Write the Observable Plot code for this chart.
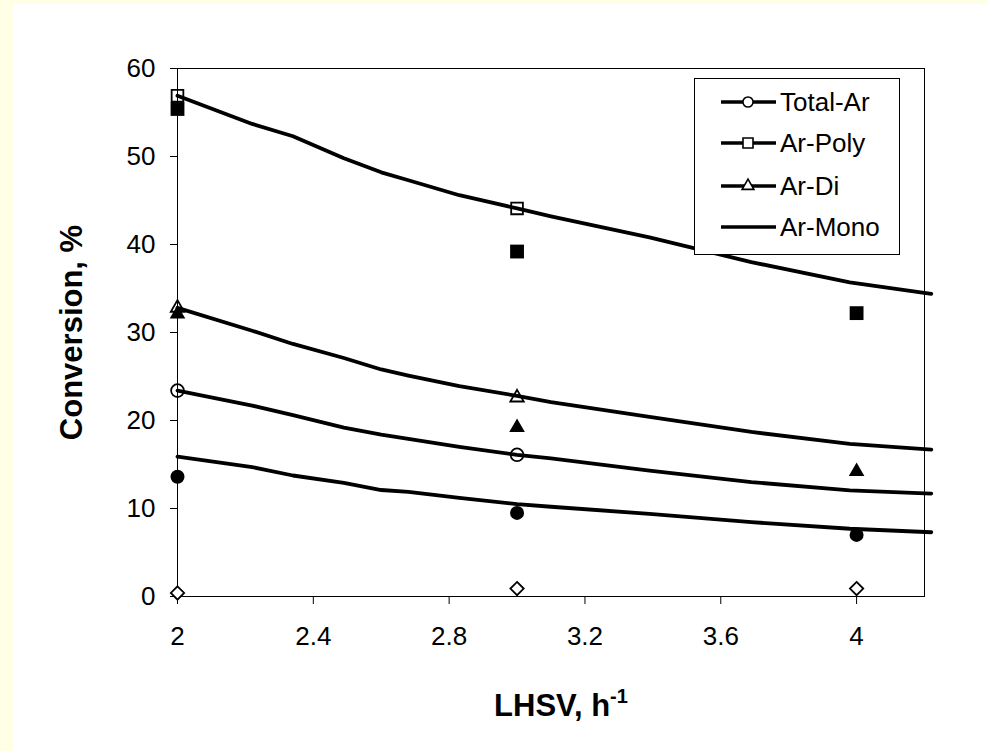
<!DOCTYPE html>
<html>
<head>
<meta charset="utf-8">
<script src="https://cdn.jsdelivr.net/npm/d3@7"></script>
<script src="https://cdn.jsdelivr.net/npm/@observablehq/plot@0.6"></script>
<style>
  html, body { margin: 0; padding: 0; }
  body { width: 988px; height: 751px; background: #FFFFE6; position: relative; overflow: hidden;
         font-family: "Liberation Sans", Arial, sans-serif; }
  #paper { position: absolute; left: 13px; top: 4px; right: 0; bottom: 0; background: #ffffff; }
  #chart { position: absolute; left: 0; top: 0; }
  #xtitle { position: absolute; left: 441px; width: 240px; top: 690px; text-align: center;
            font-weight: bold; font-size: 31px; line-height: 31px; white-space: nowrap; color: #000; }
  #xtitle .sup { position: relative; top: -13px; font-size: 20px; }
  #legend { position: absolute; left: 694px; top: 78px; width: 204px; height: 175px;
            border: 1px solid #000; background: #fff; }
</style>
</head>
<body>
<div id="paper"></div>
<div id="chart"></div>
<div id="xtitle">LHSV, h<span class="sup">-1</span></div>
<div id="legend"></div>
<script>
// ---- Data ----
// Experimental points (filled markers) at LHSV 2, 3, 4
const lhsv = [2, 3, 4];
const totalArExp = [13.6, 9.5, 7.0];
const arPolyExp = [55.4, 39.2, 32.2];
const arDiExp = [32.1, 19.2, 14.2];
const arMonoExp = [0.4, 0.9, 0.9];

// Open markers at LHSV 2 and 3
const lhsvOpen = [2, 3];
const totalArOpen = [23.4, 16.1];
const arPolyOpen = [56.9, 44.1];
const arDiOpen = [32.8, 22.6];

// Model curves
const curveLhsv = [2.0, 2.22, 2.34, 2.49, 2.6, 2.68, 2.83, 3.0, 3.1, 3.39, 3.69, 3.98, 4.22];
const arPolyFit = [56.9, 53.7, 52.3, 49.8, 48.2, 47.3, 45.6, 44.1, 43.2, 40.8, 38.0, 35.7, 34.4];
const arDiFit   = [32.8, 30.2, 28.7, 27.1, 25.8, 25.1, 23.9, 22.8, 22.1, 20.4, 18.7, 17.35, 16.7];
const totalFit  = [23.4, 21.7, 20.6, 19.2, 18.4, 17.9, 17.0, 16.1, 15.7, 14.3, 13.0, 12.05, 11.7];
const arMonoFit = [15.9, 14.7, 13.75, 12.9, 12.1, 11.9, 11.2, 10.5, 10.2, 9.4, 8.45, 7.7, 7.3];

const xTicks = [2, 2.4, 2.8, 3.2, 3.6, 4];
const yTicks = [0, 10, 20, 30, 40, 50, 60];

const legendNames = ["Total-Ar", "Ar-Poly", "Ar-Di", "Ar-Mono"];
const legendSymbols = ["circle", "square", "triangle", null];

const yTitle = "Conversion, %";

// ---- Chart ----
const id = d => d;
const fitSeries = [arPolyFit, arDiFit, totalFit, arMonoFit];
const fmt = d3.format("~g");

const marks = [
  Plot.frame({stroke: "#000", strokeWidth: 1}),
  Plot.axisX({ticks: xTicks, tickFormat: fmt, tickSize: 8, tickPadding: 22, label: null, fontSize: 26, stroke: "#000"}),
  Plot.axisY({ticks: yTicks, tickFormat: fmt, tickSize: 7, tickPadding: 15, label: null, fontSize: 26, stroke: "#000"}),
  ...fitSeries.map(s => Plot.line(curveLhsv, {x: id, y: s, stroke: "#000", strokeWidth: 3.8})),
  // filled markers
  Plot.dot(lhsv, {x: id, y: arPolyExp, symbol: "square", r: 7.8, fill: "#000", stroke: "none"}),
  Plot.dot(lhsv, {x: id, y: arDiExp, symbol: "triangle", r: 5.8, fill: "#000", stroke: "none"}),
  Plot.dot(lhsv, {x: id, y: totalArExp, symbol: "circle", r: 7, fill: "#000", stroke: "none"}),
  Plot.dot(lhsv, {x: id, y: arMonoExp, symbol: d3.symbolDiamond2, r: 6.0, fill: "#fff", stroke: "#000", strokeWidth: 1.8}),
  // open markers
  Plot.dot(lhsvOpen, {x: id, y: arPolyOpen, symbol: "square", r: 6.6, fill: "none", stroke: "#000", strokeWidth: 1.8}),
  Plot.dot(lhsvOpen, {x: id, y: arDiOpen, symbol: "triangle", r: 5.0, fill: "none", stroke: "#000", strokeWidth: 1.8}),
  Plot.dot(lhsvOpen, {x: id, y: totalArOpen, symbol: "circle", r: 6.4, fill: "none", stroke: "#000", strokeWidth: 1.8}),
  // y-axis title
  Plot.text([yTitle], {text: id, frameAnchor: "left", textAnchor: "middle", lineAnchor: "middle", rotate: -90, dx: -105, fontSize: 31, fontWeight: "bold", fill: "#000"})
];

const chart = Plot.plot({
  width: 988,
  height: 751,
  marginLeft: 177,
  marginRight: 64,
  marginTop: 68,
  marginBottom: 155,
  style: {background: "transparent", fontFamily: "'Liberation Sans', Arial, sans-serif", fontSize: "26px", color: "#000", overflow: "visible"},
  x: {domain: [2, 4.2]},
  y: {domain: [0, 60]},
  marks
});
document.getElementById("chart").appendChild(chart);

// ---- Legend ----
const lg = d3.select("#legend").append("svg")
  .attr("width", 204).attr("height", 175)
  .style("position", "absolute").style("left", "0").style("top", "0")
  .style("overflow", "visible");
const rowY = [23, 64, 107, 148];
legendNames.forEach((name, i) => {
  const y = rowY[i];
  lg.append("line").attr("x1", 26).attr("x2", 81).attr("y1", y).attr("y2", y)
    .attr("stroke", "#000").attr("stroke-width", 3.6);
  if (legendSymbols[i]) {
    const sym = {circle: d3.symbolCircle, square: d3.symbolSquare, triangle: d3.symbolTriangle}[legendSymbols[i]];
    const size = {circle: 80, square: 100, triangle: 60}[legendSymbols[i]];
    lg.append("path").attr("d", d3.symbol(sym, size)())
      .attr("transform", `translate(53,${y})`)
      .attr("fill", "#fff").attr("stroke", "#000").attr("stroke-width", 1.6);
  }
  lg.append("text").attr("x", 85).attr("y", y).attr("dy", "0.34em")
    .attr("font-size", 26).attr("font-family", "'Liberation Sans', Arial, sans-serif")
    .attr("fill", "#000").text(name);
});
</script>
</body>
</html>
